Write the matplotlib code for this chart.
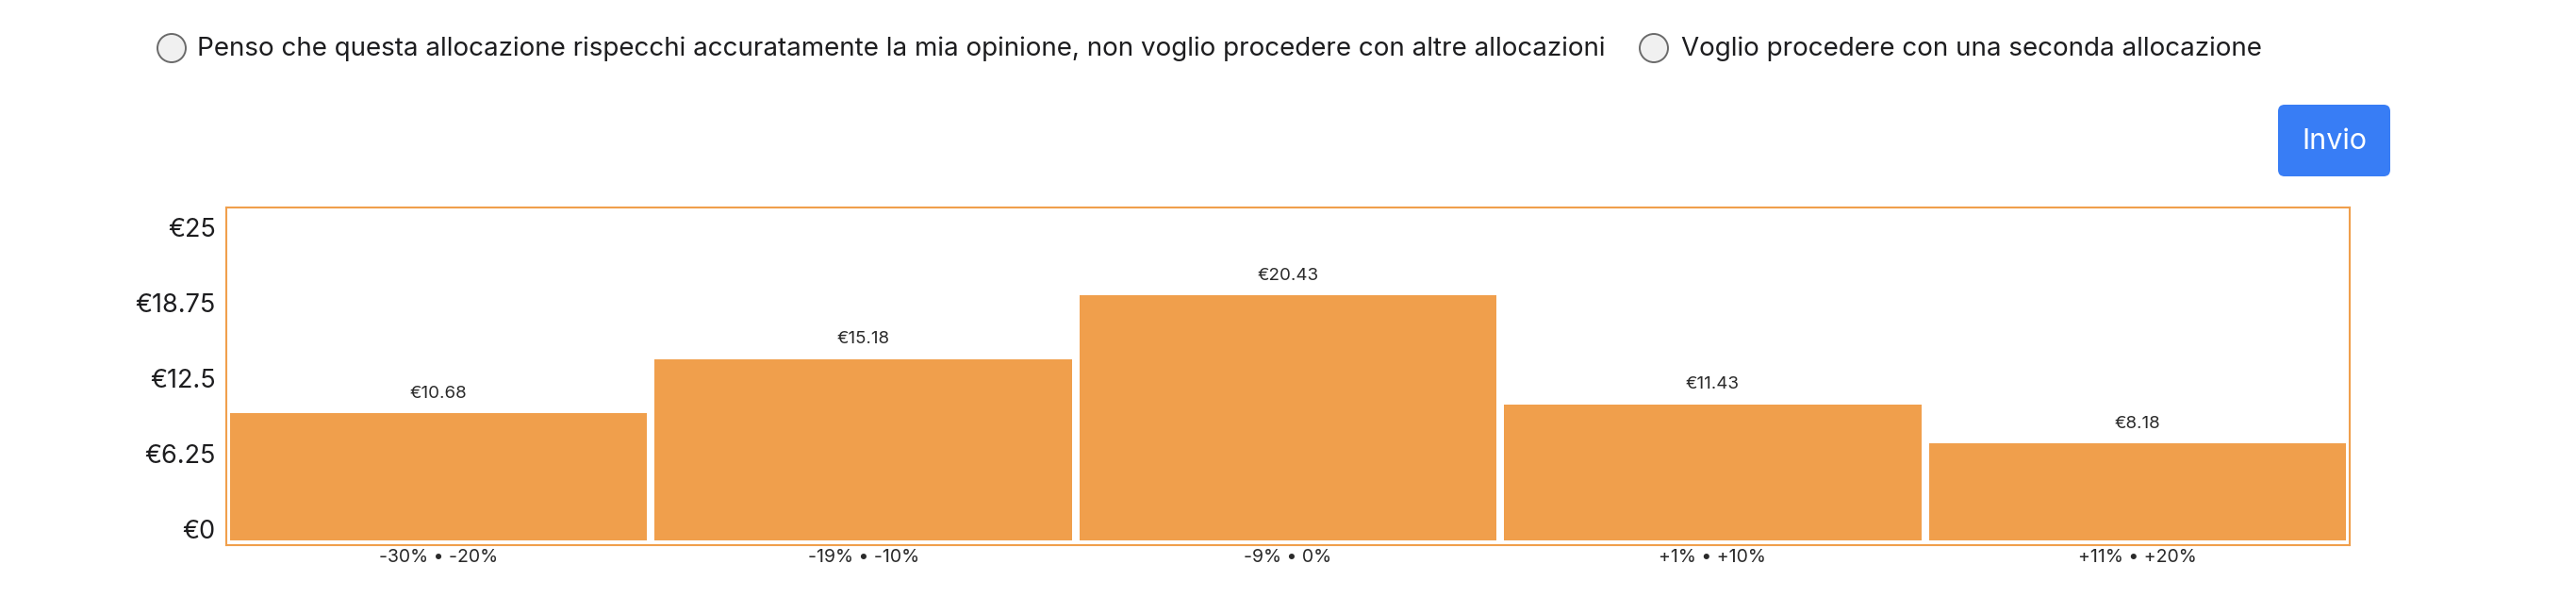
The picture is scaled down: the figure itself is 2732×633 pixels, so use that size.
import matplotlib

matplotlib.use("Agg")
import matplotlib.pyplot as plt
import numpy as np
from matplotlib.patches import Circle, FancyBboxPatch
from matplotlib.transforms import ScaledTranslation

# data
ranges = ["-30% • -20%", "-19% • -10%", "-9% • 0%", "+1% • +10%", "+11% • +20%"]
amounts = [10.68, 15.18, 20.43, 11.43, 8.18]
y_ticks = [0, 6.25, 12.5, 18.75, 25]
y_tick_labels = ["€0", "€6.25", "€12.5", "€18.75", "€25"]
choice_labels = [
    "Penso che questa allocazione rispecchi accuratamente la mia opinione, non voglio procedere con altre allocazioni",
    "Voglio procedere con una seconda allocazione",
]
button_label = "Invio"

ORANGE = "#F09F4C"
TEXT = "#1d1d1f"
BLUE = "#387DF5"
W, H = 2732, 633
PX_PER_UNIT = 12.8

plt.rcParams["font.family"] = ["Inter", "DejaVu Sans"]

fig = plt.figure(figsize=(W / 100, H / 100), dpi=100)

# page overlay in pixel coordinates: radio buttons and submit button
page = fig.add_axes([0, 0, 1, 1])
page.set_xlim(0, W)
page.set_ylim(H, 0)
page.axis("off")

for cx, tx, label in zip([182, 1754], [209, 1783], choice_labels):
    page.add_patch(Circle((cx, 51), 15, facecolor="#f0f0f0", edgecolor="#6a6a6a", lw=1.4))
    page.text(tx, 52, label, fontsize=20, color=TEXT, va="center", ha="left")

page.add_patch(
    FancyBboxPatch((2416, 111), 119, 76, boxstyle="round,pad=0,rounding_size=7",
                   facecolor=BLUE, edgecolor="none")
)
page.text(2475.5, 150, button_label, fontsize=22, color="white", va="center", ha="center")

# chart
ax = fig.add_axes([240 / W, 1 - 578 / H, (2492 - 240) / W, (578 - 220) / H])
y_min = -3 / PX_PER_UNIT
y_max = y_min + 358 / PX_PER_UNIT
base = y_min + 5 / PX_PER_UNIT

x = np.arange(len(amounts))
values = np.array(amounts)
ax.bar(x, values - base, bottom=base, width=0.982, color=ORANGE, edgecolor="none")
for xi, v in zip(x, values):
    ax.annotate(f"€{v:.2f}", (xi, v), xytext=(0, 12), textcoords="offset points",
                ha="center", va="baseline", fontsize=13.5, color="#2a2a2a")

ax.set_xlim(-0.5, 4.5)
ax.set_ylim(y_min, y_max)
ax.set_xticks(x)
ax.set_xticklabels(ranges, fontsize=14, color="#2a2a2a")
ax.set_yticks(y_ticks)
ax.set_yticklabels(y_tick_labels, fontsize=19.5, color=TEXT)
ax.tick_params(length=0)
ax.tick_params(axis="x", pad=3)
ax.tick_params(axis="y", pad=8)
for lab in ax.get_yticklabels():
    lab.set_transform(lab.get_transform() + ScaledTranslation(0, 0.14, fig.dpi_scale_trans))
for spine in ax.spines.values():
    spine.set_color(ORANGE)
    spine.set_linewidth(1.5)

fig.savefig("out.png", dpi=100)
